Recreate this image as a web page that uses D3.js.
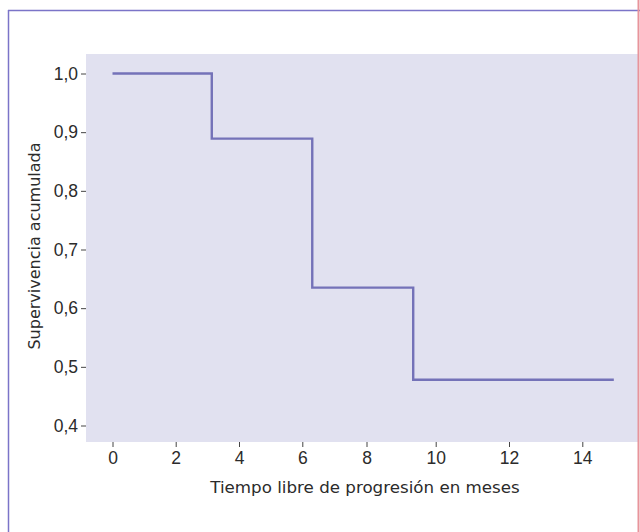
<!DOCTYPE html>
<html>
<head>
<meta charset="utf-8">
<script src="https://cdn.jsdelivr.net/npm/d3@7.9.0/dist/d3.min.js"></script>
<style>
  body { margin: 0; background: #fff; }
  svg { display: block; font-family: "DejaVu Sans", Verdana, sans-serif; }
</style>
</head>
<body>
<div id="chart"></div>
<script>
// Curva de supervivencia (Kaplan-Meier)
const stepTimes = [0, 3.14, 6.31, 9.35];      // meses en que empieza cada escalón
const stepSurvival = [1.0, 0.889, 0.635, 0.478];
const lastTime = 14.86;                        // fin del seguimiento
const xTicks = [0, 2, 4, 6, 8, 10, 12, 14];
const yTicks = [0.4, 0.5, 0.6, 0.7, 0.8, 0.9, 1.0];
const xTitle = 'Tiempo libre de progresión en meses';
const yTitle = 'Supervivencia acumulada';

const W = 640, H = 532;
const plot = { left: 86, right: 638, top: 54, bottom: 442 };

const svg = d3.select('#chart').append('svg')
  .attr('width', W).attr('height', H);

// marco de la figura
svg.append('line').attr('x1', 8).attr('x2', 640).attr('y1', 10.5).attr('y2', 10.5)
  .attr('stroke', '#7b74c8').attr('stroke-width', 1.5);
svg.append('line').attr('x1', 8.5).attr('x2', 8.5).attr('y1', 10).attr('y2', H)
  .attr('stroke', '#7b74c8').attr('stroke-width', 1.5);

// fondo del área de trazado
svg.append('rect')
  .attr('x', plot.left).attr('y', plot.top)
  .attr('width', plot.right - plot.left).attr('height', plot.bottom - plot.top)
  .attr('fill', '#e1e1f0');

svg.append('line').attr('x1', 638.5).attr('x2', 638.5).attr('y1', 0).attr('y2', H)
  .attr('stroke', '#e8949b').attr('stroke-width', 2);

// las marcas del eje x en el original no están equiespaciadas
const x = d3.scaleLinear()
  .domain(xTicks)
  .range([112.5, 175.7, 239, 302.3, 366.5, 435.7, 509, 582.3]);
const y = d3.scaleLinear().domain([0.4, 1.0]).range([425.5, 73.5]);

const comma = d3.formatLocale({ decimal: ',', thousands: '.', grouping: [3], currency: ['', '€'] }).format('.1f');

const gx = svg.append('g')
  .attr('transform', `translate(0,${plot.bottom})`)
  .call(d3.axisBottom(x).tickValues(xTicks).tickSize(5).tickPadding(5).tickFormat(d3.format('d')));
const gy = svg.append('g')
  .attr('transform', `translate(${plot.left},0)`)
  .call(d3.axisLeft(y).tickValues(yTicks).tickSize(5).tickPadding(3).tickFormat(comma));

[gx, gy].forEach(g => {
  g.select('.domain').remove();
  g.selectAll('.tick line').attr('stroke', '#444');
  g.selectAll('.tick text').attr('fill', '#2b2b2b').style('font-size', '17.5px');
});

svg.append('text')
  .attr('x', 365).attr('y', 493)
  .attr('text-anchor', 'middle')
  .attr('fill', '#2b2b2b').style('font-size', '16.7px')
  .text(xTitle);

svg.append('text')
  .attr('transform', 'translate(40,246) rotate(-90)')
  .attr('text-anchor', 'middle')
  .attr('fill', '#2b2b2b').style('font-size', '16px')
  .text(yTitle);

// curva escalonada
const pts = stepTimes.map((t, i) => [t, stepSurvival[i]]);
pts.push([lastTime, stepSurvival[stepSurvival.length - 1]]);
const line = d3.line()
  .x(d => x(d[0]))
  .y(d => y(d[1]))
  .curve(d3.curveStepAfter);

svg.append('path')
  .datum(pts)
  .attr('d', line)
  .attr('fill', 'none')
  .attr('stroke', '#7472b8')
  .attr('stroke-width', 2.4);
</script>
</body>
</html>
